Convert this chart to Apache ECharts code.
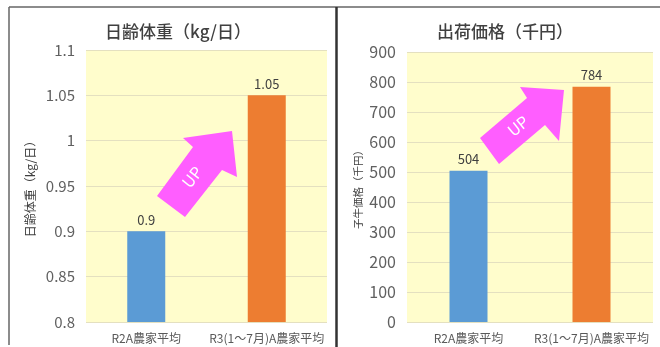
<!DOCTYPE html>
<html>
<head>
<meta charset="utf-8">
<script src="https://cdn.jsdelivr.net/npm/echarts@6/dist/echarts.min.js"></script>
<style>
  html, body { margin: 0; padding: 0; background: #fff; }
  #chart { width: 660px; height: 347px; }
</style>
</head>
<body>
<div id="chart"></div>
<script>
// Farm comparison: daily weight gain and calf shipping price
const categories = ['R2A農家平均', 'R3(1～7月)A農家平均'];
const weightGain = [0.9, 1.05];      // kg/日
const shipPrice = [504, 784];        // 千円
const barColors = ['#5B9BD5', '#ED7D31'];
const weightTicks = { min: 0.8, max: 1.1, step: 0.05 };
const priceTicks = { min: 0, max: 900, step: 100 };

const FONT = '"Noto Sans CJK JP", "Noto Sans", sans-serif';
const plotBg = '#FFFDCC';
const gridColor = '#E4E0C0';
const arrowColor = '#FF5EFF';

function coloured(values) {
  return values.map((v, i) => ({ value: v, itemStyle: { color: barColors[i] } }));
}

function yAxisFor(gridIndex, ticks, name, nameGap, nameSize, labelSize) {
  return {
    type: 'value', gridIndex,
    min: ticks.min, max: ticks.max, interval: ticks.step,
    name, nameLocation: 'middle', nameGap, nameRotate: 90,
    nameTextStyle: { fontFamily: FONT, fontSize: nameSize, color: '#404040' },
    axisLine: { show: false }, axisTick: { show: false },
    axisLabel: { fontFamily: FONT, fontSize: labelSize, color: '#606060', margin: 11 },
    splitLine: { lineStyle: { color: gridColor, width: 1 } }
  };
}

function xAxisFor(gridIndex) {
  return {
    type: 'category', gridIndex, data: categories,
    axisLine: { show: false }, axisTick: { show: false },
    axisLabel: { fontFamily: FONT, fontSize: 12, color: '#595959', margin: 10, interval: 0 }
  };
}

function barSeries(idx, values) {
  return {
    type: 'bar', xAxisIndex: idx, yAxisIndex: idx,
    data: coloured(values), barWidth: 38,
    label: { show: true, position: 'top', distance: 5, fontFamily: FONT, fontSize: 13, color: '#404040' }
  };
}

function upArrow(points, textPos, angleDeg) {
  return [
    { type: 'polygon', shape: { points }, style: { fill: arrowColor }, z: 10 },
    {
      type: 'text', x: textPos[0], y: textPos[1], rotation: angleDeg * Math.PI / 180, z: 11,
      style: { text: 'UP', fill: '#fff', font: '16px ' + FONT, align: 'center', verticalAlign: 'middle' }
    }
  ];
}

const chart = echarts.init(document.getElementById('chart'), null, { renderer: 'canvas' });
chart.setOption({
  animation: false,
  backgroundColor: '#fff',
  title: [
    { text: '日齢体重（kg/日）', left: 173, top: 18, textAlign: 'center',
      textStyle: { fontFamily: FONT, fontSize: 17, fontWeight: 500, color: '#404040' } },
    { text: '出荷価格（千円）', left: 500, top: 18, textAlign: 'center',
      textStyle: { fontFamily: FONT, fontSize: 17, fontWeight: 500, color: '#404040' } }
  ],
  grid: [
    { left: 86, top: 50, width: 241, height: 272, show: true, backgroundColor: plotBg, borderWidth: 0 },
    { left: 407, top: 52, width: 246, height: 270, show: true, backgroundColor: plotBg, borderWidth: 0 }
  ],
  xAxis: [xAxisFor(0), xAxisFor(1)],
  yAxis: [
    yAxisFor(0, weightTicks, '日齢体重（kg/日）', 50, 12, 15),
    yAxisFor(1, priceTicks, '子牛価格（千円）', 44, 10.5, 16)
  ],
  series: [barSeries(0, weightGain), barSeries(1, shipPrice)],
  graphic: [
    // panel frame
    { type: 'line', shape: { x1: 9, y1: 7, x2: 660, y2: 7 }, style: { stroke: '#8c8c8c', lineWidth: 2 } },
    { type: 'line', shape: { x1: 9, y1: 7, x2: 9, y2: 345 }, style: { stroke: '#666', lineWidth: 1.5 } },
    { type: 'line', shape: { x1: 336.5, y1: 7, x2: 336.5, y2: 347 }, style: { stroke: '#333', lineWidth: 2.5 } },
    ...upArrow([[157, 196], [193, 147], [183, 138], [232, 131], [237, 177], [222, 170], [185, 217]], [192, 177], 51),
    ...upArrow([[480, 138], [527, 98], [520, 87], [564, 90], [559, 141], [545, 125], [499, 164]], [518, 126], 39)
  ]
});
</script>
</body>
</html>
